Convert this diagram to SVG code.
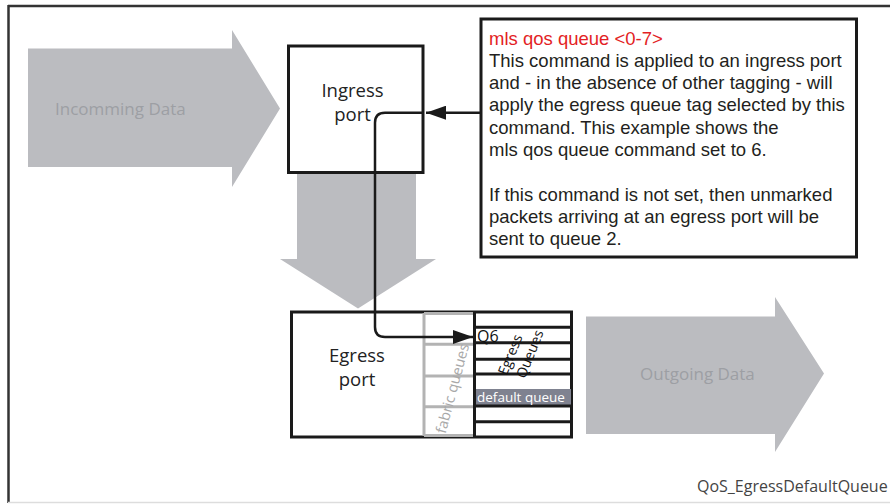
<svg xmlns="http://www.w3.org/2000/svg" width="890" height="504" viewBox="0 0 890 504">
<style>
.bigarrow{fill:#bbbcc0;stroke:none}
.arrowlbl{font-family:"Open Sans","DejaVu Sans",sans-serif;font-size:17px;fill:#9d9fa4}
.box{fill:#fff;stroke:#1a1a1a;stroke-width:3}
.port{font-family:"Open Sans","DejaVu Sans",sans-serif;font-size:18.5px;fill:#222;text-anchor:middle}
.note{font-family:"Liberation Sans",Arial,sans-serif;font-size:18.5px;fill:#231f20}
.red{fill:#e31e24}
.conn{fill:none;stroke:#1a1a1a;stroke-width:2.5}
.gline{stroke:#b3b3b3;stroke-width:3}
.bline{stroke:#1a1a1a;stroke-width:3}
.small{font-family:"Open Sans","DejaVu Sans",sans-serif}
</style>
<defs>
<marker id="ah" markerUnits="userSpaceOnUse" markerWidth="21" markerHeight="14" refX="20" refY="7" orient="auto">
<path d="M0,0 L20,7 L0,14 z" fill="#1a1a1a"/>
</marker>
</defs>
<rect width="890" height="504" fill="#fff"/>
<g id="frame">
<line x1="8" y1="6" x2="890" y2="6" stroke="#333" stroke-width="2.5"/>
<line x1="8.5" y1="5" x2="8.5" y2="503" stroke="#333" stroke-width="2.5"/>
<line x1="8" y1="502.5" x2="890" y2="502.5" stroke="#ddd" stroke-width="1.5"/>
</g>
<g id="incoming">
<polygon class="bigarrow" points="28,48.5 232,48.5 232,30 280,108.5 232,187 232,167 28,167"/>
<text class="arrowlbl" x="55" y="115">Incomming Data</text>
</g>
<g id="downarrow">
<polygon class="bigarrow" points="297,172 416,172 416,259 436,259 358,308.5 280,259 297,259"/>
</g>
<g id="outgoing">
<polygon class="bigarrow" points="586,316.5 775,316.5 775,297 824,373.5 775,452 775,434 586,434"/>
<text class="arrowlbl" x="640" y="380">Outgoing Data</text>
</g>
<g id="ingress">
<rect class="box" x="288.5" y="46" width="134.5" height="126.5"/>
<text class="port" x="352.5" y="97">Ingress</text>
<text class="port" x="352.5" y="121">port</text>
</g>
<g id="note">
<rect class="box" x="481" y="19" width="375.5" height="238" stroke-width="2.5"/>
<text class="note red" x="489" y="44.5">mls qos queue &lt;0-7&gt;</text>
<text class="note" x="489" y="66.8">This command is applied to an ingress port</text>
<text class="note" x="489" y="89.1">and - in the absence of other tagging - will</text>
<text class="note" x="489" y="111.4">apply the egress queue tag selected by this</text>
<text class="note" x="489" y="133.7">command. This example shows the</text>
<text class="note" x="489" y="156">mls qos queue command set to 6.</text>
<text class="note" x="489" y="200.6">If this command is not set, then unmarked</text>
<text class="note" x="489" y="222.9">packets arriving at an egress port will be</text>
<text class="note" x="489" y="245.2">sent to queue 2.</text>
</g>
<g id="egress">
<rect class="box" x="291.5" y="312" width="280" height="125"/>
<text class="port" x="357" y="362">Egress</text>
<text class="port" x="357" y="386">port</text>
<g id="fabric-queues">
<line class="gline" x1="424" y1="313" x2="424" y2="436"/>
<line class="gline" x1="424" y1="313.5" x2="474" y2="313.5"/>
<line class="gline" x1="424" y1="344.3" x2="474" y2="344.3"/>
<line class="gline" x1="424" y1="376" x2="474" y2="376"/>
<line class="gline" x1="424" y1="406.7" x2="474" y2="406.7"/>
<line class="gline" x1="424" y1="435.5" x2="474" y2="435.5"/>
<text class="small" transform="translate(452.5,388.5) rotate(-75)" x="0" y="5" font-size="14.5" fill="#a8a8a8" text-anchor="middle">fabric queues</text>
</g>
<g id="egress-queues">
<rect x="474.5" y="389" width="96.5" height="16.5" fill="#7f8290"/>
<line class="bline" x1="474.5" y1="312" x2="474.5" y2="437"/>
<line class="bline" x1="474.5" y1="327.3" x2="571" y2="327.3"/>
<line class="bline" x1="474.5" y1="342.7" x2="571" y2="342.7"/>
<line class="bline" x1="474.5" y1="359.3" x2="571" y2="359.3"/>
<line class="bline" x1="474.5" y1="374" x2="571" y2="374"/>
<line class="bline" x1="474.5" y1="406" x2="571" y2="406"/>
<line class="bline" x1="474.5" y1="421.7" x2="571" y2="421.7"/>
<text class="small" x="477" y="341.5" font-size="16" fill="#111">Q6</text>
<text class="small" x="477" y="402" font-size="13.5" fill="#fff">default queue</text>
<g transform="translate(511,355) rotate(-68)">
<text class="small" x="0" y="4" font-size="14" fill="#111" text-anchor="middle">Egress</text>
<text class="small" x="8" y="22" font-size="14" fill="#111" text-anchor="middle">Queues</text>
</g>
</g>
</g>
<g id="connectors">
<path class="conn" d="M481,112.7 H426" marker-end="url(#ah)"/>
<path class="conn" d="M423,112.7 H385 Q375,112.7 375,122.7 V327 Q375,337 385,337 H473" marker-end="url(#ah)"/>
</g>
<g id="caption">
<text class="small" x="697" y="492" font-size="16" fill="#444">QoS_EgressDefaultQueue</text>
</g>
</svg>
